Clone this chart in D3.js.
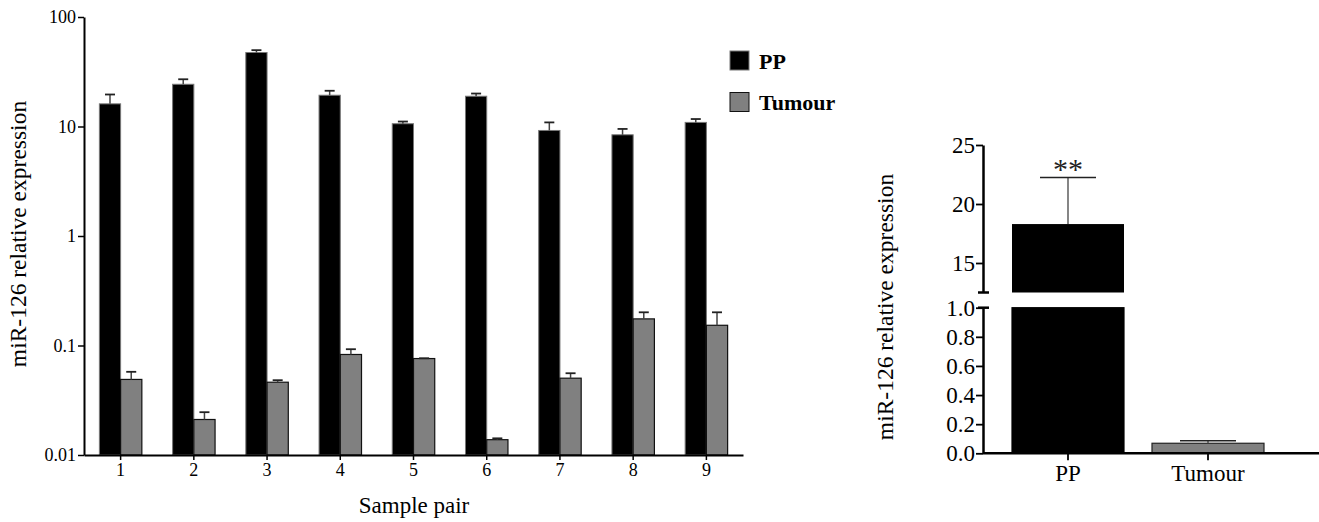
<!DOCTYPE html>
<html>
<head>
<meta charset="utf-8">
<script src="https://cdn.jsdelivr.net/npm/d3@7"></script>
<style>
  body { margin: 0; background: #fff; }
  svg { display: block; font-family: "Liberation Serif", "Times New Roman", serif; }
  .axis path, .axis line { stroke: #000; }
  .axis text { fill: #000; }
</style>
</head>
<body>
<svg class="chart"></svg>
<script>
// per-pair values (mean and SEM)
const samples = ['1', '2', '3', '4', '5', '6', '7', '8', '9'];
const ppMean = [16.1, 24.3, 47.4, 19.3, 10.6, 18.9, 9.2, 8.4, 10.9];
const ppSem = [3.5, 2.7, 2.4, 1.9, 0.5, 1.1, 1.7, 1.1, 0.8];
const tumourMean = [0.049, 0.0211, 0.0462, 0.0828, 0.076, 0.0138, 0.0503, 0.175, 0.153];
const tumourSem = [0.0085, 0.0035, 0.002, 0.0097, 0.0005, 0.0004, 0.0055, 0.026, 0.048];
const logTicks = [0.01, 0.1, 1, 10, 100];

// pooled values
const groups = ['PP', 'Tumour'];
const groupMean = [18.3, 0.069];
const groupSem = [3.95, 0.018];
const upperTicks = [15, 20, 25];
const lowerTicks = [0, 0.2, 0.4, 0.6, 0.8, 1.0];

const ppFill = '#000';
const tumourFill = '#808080';

const svg = d3.select('.chart')
  .attr('width', 1319)
  .attr('height', 522);

// ---- left chart ----
const x = d3.scaleBand()
  .domain(samples)
  .range([84, 743]);

const y = d3.scaleLog()
  .domain([0.01, 100])
  .range([455, 17]);

const barW = x.bandwidth() * 0.29;

const left = svg.append('g');

const pairs = samples.map(function(s, i) {
  return {name: s, pp: ppMean[i], ppSem: ppSem[i], tu: tumourMean[i], tuSem: tumourSem[i]};
});

const pair = left.selectAll('.pair')
  .data(pairs)
  .enter()
.append('g')
  .attr('class', 'pair');

pair.append('rect')
  .attr('x', d => x(d.name) + x.bandwidth() / 2 - barW)
  .attr('y', d => y(d.pp))
  .attr('width', barW)
  .attr('height', d => y(0.01) - y(d.pp))
  .attr('fill', ppFill)
  .attr('stroke', '#777')
  .attr('stroke-width', 1);

pair.append('rect')
  .attr('x', d => x(d.name) + x.bandwidth() / 2)
  .attr('y', d => y(d.tu))
  .attr('width', barW)
  .attr('height', d => y(0.01) - y(d.tu))
  .attr('fill', tumourFill)
  .attr('stroke', '#111')
  .attr('stroke-width', 1.2);

// error bars (upper only)
function errBar(g, cx, top, cap, capW) {
  g.append('line')
    .attr('x1', cx).attr('x2', cx)
    .attr('y1', top).attr('y2', cap)
    .attr('stroke', '#444').attr('stroke-width', 1.5);
  g.append('line')
    .attr('x1', cx - capW / 2).attr('x2', cx + capW / 2)
    .attr('y1', cap).attr('y2', cap)
    .attr('stroke', '#222').attr('stroke-width', 1.8);
}

pair.each(function(d) {
  const g = d3.select(this);
  const c = x(d.name) + x.bandwidth() / 2;
  errBar(g, c - barW / 2, y(d.pp), y(d.pp + d.ppSem), 10);
  errBar(g, c + barW / 2, y(d.tu), y(d.tu + d.tuSem), 10);
});

function styleAxis(g, size, lineW, tickW) {
  g.attr('font-family', null).attr('font-size', size);
  g.select('.domain').attr('stroke-width', lineW);
  g.selectAll('.tick line').attr('stroke-width', tickW);
}

left.append('g')
  .attr('class', 'axis')
  .attr('transform', 'translate(84,0)')
  .call(d3.axisLeft(y).tickValues(logTicks).tickFormat(d => String(d)).tickSize(6).tickSizeOuter(0))
  .call(g => styleAxis(g, '18px', 2, 1.5))
  .call(g => g.selectAll('.tick text').attr('x', -8));

left.append('g')
  .attr('class', 'axis')
  .attr('transform', 'translate(0,455)')
  .call(d3.axisBottom(x).tickSize(5).tickSizeOuter(0))
  .call(g => styleAxis(g, '18px', 2, 1.5))
  .call(g => g.selectAll('.tick text').attr('y', 8));

left.append('text')
  .attr('x', 414)
  .attr('y', 513)
  .attr('text-anchor', 'middle')
  .attr('font-size', '23px')
  .text('Sample pair');

left.append('text')
  .attr('transform', 'translate(26,234) rotate(-90)')
  .attr('text-anchor', 'middle')
  .attr('font-size', '23.5px')
  .text('miR-126 relative expression');

// legend
const legend = left.selectAll('.legend')
  .data([{name: 'PP', fill: ppFill, stroke: '#777'}, {name: 'Tumour', fill: tumourFill, stroke: '#111'}])
  .enter()
.append('g')
  .attr('transform', (d, i) => `translate(730, ${51 + i * 41.5})`);

legend.append('rect')
  .attr('width', 19).attr('height', 19)
  .attr('fill', d => d.fill)
  .attr('stroke', d => d.stroke);

legend.append('text')
  .attr('x', 29)
  .attr('y', 17.5)
  .attr('font-size', '22px')
  .attr('font-weight', 'bold')
  .text(d => d.name);

// ---- right chart (broken axis) ----
const x2 = d3.scaleBand()
  .domain(groups)
  .range([998, 1278]);

const yTop = d3.scaleLinear()
  .domain([12.5, 25])
  .range([292.5, 145]);

const yLow = d3.scaleLinear()
  .domain([0, 1])
  .range([453.3, 307.7]);

function yBroken(v) {
  return v > 1 ? yTop(v) : yLow(v);
}

const right = svg.append('g');
const bw2 = x2.bandwidth() * 0.8;

groups.forEach(function(name, i) {
  const v = groupMean[i];
  const cx = x2(name) + x2.bandwidth() / 2;
  const fill = i === 0 ? ppFill : tumourFill;
  // lower segment
  right.append('rect')
    .attr('x', cx - bw2 / 2)
    .attr('y', yLow(Math.min(v, 1)))
    .attr('width', bw2)
    .attr('height', yLow(0) - yLow(Math.min(v, 1)))
    .attr('fill', fill)
    .attr('stroke', i === 0 ? '#000' : '#222')
    .attr('stroke-width', 1.2);
  // upper segment
  if (v > 1) {
    right.append('rect')
      .attr('x', cx - bw2 / 2)
      .attr('y', yTop(v))
      .attr('width', bw2)
      .attr('height', yTop(12.5) - yTop(v))
      .attr('fill', fill);
  }
  const cap = yBroken(v + groupSem[i]);
  right.append('line')
    .attr('x1', cx).attr('x2', cx)
    .attr('y1', yBroken(v)).attr('y2', cap)
    .attr('stroke', '#444').attr('stroke-width', 1.3);
  right.append('line')
    .attr('x1', cx - bw2 / 4).attr('x2', cx + bw2 / 4)
    .attr('y1', cap).attr('y2', cap)
    .attr('stroke', '#222').attr('stroke-width', 1.5);
  if (i === 0) {
    right.append('text')
      .attr('x', cx)
      .attr('y', cap + 2)
      .attr('text-anchor', 'middle')
      .attr('font-size', '30px')
      .attr('fill', '#222')
      .text('**');
  }
});

right.append('g')
  .attr('class', 'axis')
  .attr('transform', 'translate(983,0)')
  .call(d3.axisLeft(yTop).tickValues(upperTicks).tickSize(7).tickSizeOuter(0))
  .call(g => styleAxis(g, '23px', 2.5, 1.8))
  .call(g => g.selectAll('.tick text').attr('x', -8));

right.append('g')
  .attr('class', 'axis')
  .attr('transform', 'translate(983,0)')
  .call(d3.axisLeft(yLow).tickValues(lowerTicks).tickFormat(d3.format('.1f')).tickSize(7).tickSizeOuter(0))
  .call(g => styleAxis(g, '23px', 2.5, 1.8))
  .call(g => g.selectAll('.tick text').attr('x', -8));

// break marks
[yTop(12.5), yLow(1)].forEach(function(yy) {
  right.append('line')
    .attr('x1', 978).attr('x2', 989)
    .attr('y1', yy).attr('y2', yy)
    .attr('stroke', '#000').attr('stroke-width', 2.5);
});

right.append('g')
  .attr('class', 'axis')
  .attr('transform', `translate(0,${yLow(0)})`)
  .call(d3.axisBottom(x2).tickSize(7).tickSizeOuter(0))
  .call(g => styleAxis(g, '23px', 2.5, 1.8))
  .call(g => g.select('.domain').attr('d', 'M983,0H1319'))
  .call(g => g.selectAll('.tick text').attr('y', 11));

right.append('text')
  .attr('transform', 'translate(893,307) rotate(-90)')
  .attr('text-anchor', 'middle')
  .attr('font-size', '23.5px')
  .text('miR-126 relative expression');
</script>
</body>
</html>
